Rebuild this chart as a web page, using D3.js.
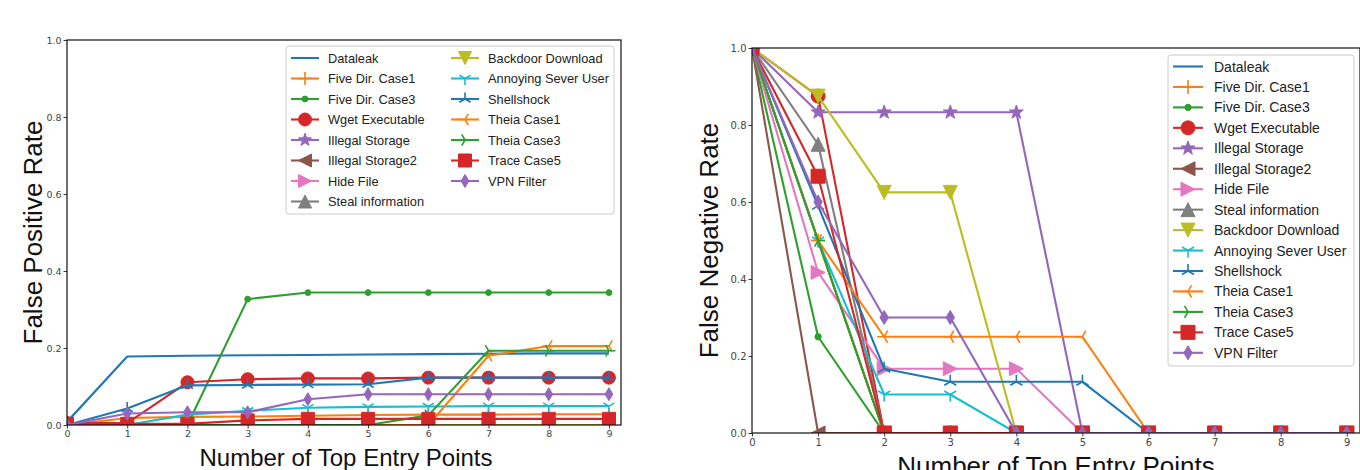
<!DOCTYPE html>
<html><head><meta charset="utf-8">
<script src="https://cdn.jsdelivr.net/npm/d3@7"></script>
<style>body{margin:0;background:#fff}svg{display:block}</style>
</head><body><svg id="c" width="1360" height="470"></svg>
<script>
// ---------------- data ----------------
const xValues = [0, 1, 2, 3, 4, 5, 6, 7, 8, 9];
const xTicks = [0, 1, 2, 3, 4, 5, 6, 7, 8, 9];
const yTicks = [0.0, 0.2, 0.4, 0.6, 0.8, 1.0];
const seriesNames = ["Dataleak", "Five Dir. Case1", "Five Dir. Case3", "Wget Executable", "Illegal Storage",
  "Illegal Storage2", "Hide File", "Steal information", "Backdoor Download", "Annoying Sever User",
  "Shellshock", "Theia Case1", "Theia Case3", "Trace Case5", "VPN Filter"];
const seriesMarkers = ["none", "+", ".", "o", "*", "<", ">", "^", "v", "1", "2", "3", "4", "s", "d"];
const seriesColors = ["#1f77b4", "#ff7f0e", "#2ca02c", "#d62728", "#9467bd", "#8c564b", "#e377c2", "#7f7f7f",
  "#bcbd22", "#17becf", "#1f77b4", "#ff7f0e", "#2ca02c", "#d62728", "#9467bd"];

// False positive rate (left chart)
const fprDataleak   = [0.008, 0.178, 0.180, 0.181, 0.182, 0.183, 0.184, 0.185, 0.186, 0.186];
const fprFiveDir1   = [0, 0.018, 0.021, 0.022, 0.024, 0.026, 0.027, 0.027, 0.028, 0.028];
const fprFiveDir3   = [0, 0, 0, 0.327, 0.344, 0.344, 0.344, 0.344, 0.344, 0.344];
const fprWget       = [0.005, 0.005, 0.111, 0.119, 0.121, 0.121, 0.123, 0.123, 0.123, 0.123];
const fprIllegal    = [0, 0, 0, 0, 0, 0, 0, 0, 0, 0];
const fprIllegal2   = [0, 0, 0, 0, 0, 0, 0, 0, 0, 0];
const fprHideFile   = [0, 0, 0, 0, 0, 0, 0, 0, 0, 0];
const fprSteal      = [0, 0, 0, 0, 0, 0, 0, 0, 0, 0];
const fprBackdoor   = [0, 0, 0, 0, 0, 0, 0, 0, 0, 0];
const fprAnnoying   = [0, 0, 0.027, 0.037, 0.045, 0.047, 0.048, 0.049, 0.049, 0.049];
const fprShellshock = [0, 0.043, 0.103, 0.104, 0.105, 0.106, 0.123, 0.123, 0.123, 0.123];
const fprTheia1     = [0, 0, 0, 0, 0, 0, 0, 0.180, 0.205, 0.205];
const fprTheia3     = [0, 0, 0, 0, 0, 0, 0.025, 0.193, 0.193, 0.193];
const fprTrace      = [0.003, 0.003, 0.003, 0.012, 0.016, 0.016, 0.016, 0.016, 0.016, 0.016];
const fprVPN        = [0, 0.030, 0.033, 0.033, 0.067, 0.080, 0.080, 0.080, 0.080, 0.080];

// False negative rate (right chart)
const fnrDataleak   = [1, 0.5, 0, 0, 0, 0, 0, 0, 0, 0];
const fnrFiveDir1   = [1, 0.5, 0, 0, 0, 0, 0, 0, 0, 0];
const fnrFiveDir3   = [1, 0.25, 0, 0, 0, 0, 0, 0, 0, 0];
const fnrWget       = [1, 0.875, 0, 0, 0, 0, 0, 0, 0, 0];
const fnrIllegal    = [1, 0.833, 0.833, 0.833, 0.833, 0, 0, 0, 0, 0];
const fnrIllegal2   = [1, 0, 0, 0, 0, 0, 0, 0, 0, 0];
const fnrHideFile   = [1, 0.417, 0.167, 0.167, 0.167, 0, 0, 0, 0, 0];
const fnrSteal      = [1, 0.75, 0, 0, 0, 0, 0, 0, 0, 0];
const fnrBackdoor   = [1, 0.875, 0.625, 0.625, 0, 0, 0, 0, 0, 0];
const fnrAnnoying   = [1, 0.5, 0.1, 0.1, 0, 0, 0, 0, 0, 0];
const fnrShellshock = [1, 0.59, 0.167, 0.133, 0.133, 0.133, 0, 0, 0, 0];
const fnrTheia1     = [1, 0.5, 0.25, 0.25, 0.25, 0.25, 0, 0, 0, 0];
const fnrTheia3     = [1, 0.5, 0, 0, 0, 0, 0, 0, 0, 0];
const fnrTrace      = [1, 0.667, 0, 0, 0, 0, 0, 0, 0, 0];
const fnrVPN        = [1, 0.6, 0.3, 0.3, 0, 0, 0, 0, 0, 0];

const fprSeries = [fprDataleak, fprFiveDir1, fprFiveDir3, fprWget, fprIllegal, fprIllegal2, fprHideFile,
  fprSteal, fprBackdoor, fprAnnoying, fprShellshock, fprTheia1, fprTheia3, fprTrace, fprVPN];
const fnrSeries = [fnrDataleak, fnrFiveDir1, fnrFiveDir3, fnrWget, fnrIllegal, fnrIllegal2, fnrHideFile,
  fnrSteal, fnrBackdoor, fnrAnnoying, fnrShellshock, fnrTheia1, fnrTheia3, fnrTrace, fnrVPN];

// ---------------- drawing ----------------
const svg = d3.select("#c");
const LABEL_FONT = "'Liberation Sans', Arial, sans-serif";
const TICK_FONT = "'DejaVu Sans', sans-serif";

function markerPath(m, s) {
  const r = s / 2;
  const pts = a => "M" + a.map(p => p[0].toFixed(2) + "," + p[1].toFixed(2)).join("L") + "Z";
  const spokes = angles => angles.map(a => {
    const t = a * Math.PI / 180;
    return "M0,0L" + (r * Math.cos(t)).toFixed(2) + "," + (r * Math.sin(t)).toFixed(2);
  }).join("");
  switch (m) {
    case "+": return `M${-r},0H${r}M0,${-r}V${r}`;
    case "o": return d3.symbol(d3.symbolCircle, Math.PI * r * r)();
    case ".": { const q = r * 0.45; return d3.symbol(d3.symbolCircle, Math.PI * q * q)(); }
    case "s": return `M${-r},${-r}H${r}V${r}H${-r}Z`;
    case "d": return pts([[0, -r], [0.6 * r, 0], [0, r], [-0.6 * r, 0]]);
    case "^": return pts([[0, -r], [r, r], [-r, r]]);
    case "v": return pts([[0, r], [r, -r], [-r, -r]]);
    case "<": return pts([[-r, 0], [r, -r], [r, r]]);
    case ">": return pts([[r, 0], [-r, -r], [-r, r]]);
    case "*": {
      const a = [];
      for (let i = 0; i < 10; i++) {
        const ang = (-90 + i * 36) * Math.PI / 180;
        const rr = i % 2 ? r * 0.42 : r * 1.05;
        a.push([rr * Math.cos(ang), rr * Math.sin(ang)]);
      }
      return pts(a);
    }
    case "1": return spokes([90, 210, 330]);   // tri_down
    case "2": return spokes([-90, 30, 150]);   // tri_up
    case "3": return spokes([180, -60, 60]);   // tri_left
    case "4": return spokes([0, 120, 240]);    // tri_right
  }
  return null;
}
const strokeOnly = m => ["+", "1", "2", "3", "4"].includes(m);

function drawMarker(g, m, color, s, x, y) {
  const p = markerPath(m, s);
  if (!p) return;
  g.append("path").attr("d", p).attr("transform", `translate(${x},${y})`)
    .attr("fill", strokeOnly(m) ? "none" : color)
    .attr("stroke", color)
    .attr("stroke-width", strokeOnly(m) ? 1.6 : 1);
}

function drawChart(cfg) {
  const x = d3.scaleLinear().domain([0, 9.2]).range([cfg.left, cfg.right]);
  const y = d3.scaleLinear().domain([0, 1]).range([cfg.bottom, cfg.top]);
  const g = svg.append("g");
  const clipId = "clip" + cfg.id;
  svg.append("clipPath").attr("id", clipId).append("rect")
    .attr("x", cfg.left).attr("y", cfg.top)
    .attr("width", cfg.right - cfg.left).attr("height", cfg.bottom - cfg.top);

  const plot = g.append("g").attr("clip-path", `url(#${clipId})`);
  const line = d3.line().x((d, i) => x(xValues[i])).y(d => y(d));
  cfg.series.forEach((vals, si) => {
    const color = seriesColors[si];
    const sg = plot.append("g");
    sg.append("path").attr("d", line(vals)).attr("fill", "none")
      .attr("stroke", color).attr("stroke-width", 2.1).attr("stroke-linejoin", "round");
    vals.forEach((v, i) => drawMarker(sg, seriesMarkers[si], color, cfg.msize, x(xValues[i]), y(v)));
  });

  // axes
  const xAxis = d3.axisBottom(x).tickValues(xTicks).tickSize(3.5).tickPadding(2).tickFormat(d3.format("d"));
  const yAxis = d3.axisLeft(y).tickValues(yTicks).tickSize(3.5).tickPadding(2).tickFormat(d3.format(".1f"));
  const gx = g.append("g").attr("transform", `translate(0,${cfg.bottom})`).call(xAxis);
  const gy = g.append("g").attr("transform", `translate(${cfg.left},0)`).call(yAxis);
  [gx, gy].forEach(a => {
    a.select(".domain").remove();
    a.selectAll("text").attr("font-family", TICK_FONT).attr("font-size", cfg.tickSize).attr("fill", "#444");
    a.selectAll("line").attr("stroke", "#222").attr("stroke-width", 0.9);
  });
  // frame
  g.append("rect").attr("x", cfg.left).attr("y", cfg.top)
    .attr("width", cfg.right - cfg.left).attr("height", cfg.bottom - cfg.top)
    .attr("fill", "none").attr("stroke", "#111").attr("stroke-width", 1.2);

  // labels
  g.append("text").attr("x", (cfg.left + cfg.right) / 2 + cfg.xlabelDx).attr("y", cfg.xlabelY)
    .attr("text-anchor", "middle").attr("font-family", LABEL_FONT).attr("font-size", cfg.xlabelSize)
    .attr("fill", "#111").text("Number of Top Entry Points");
  g.append("text").attr("transform", `translate(${cfg.ylabelX},${(cfg.top + cfg.bottom) / 2}) rotate(-90)`)
    .attr("text-anchor", "middle").attr("font-family", LABEL_FONT).attr("font-size", cfg.ylabelSize)
    .attr("fill", "#111").text(cfg.ylabel);

  // legend
  const L = cfg.legend;
  const lg = g.append("g");
  lg.append("rect").attr("x", L.x).attr("y", L.y).attr("width", L.w).attr("height", L.h)
    .attr("rx", 3).attr("fill", "#fff").attr("fill-opacity", 0.85).attr("stroke", "#cccccc").attr("stroke-width", 1);
  seriesNames.forEach((name, si) => {
    const col = Math.floor(si / L.perCol), row = si % L.perCol;
    const hx = L.x + 5 + col * L.colW;
    const hy = L.y + L.firstRow + row * L.rowH;
    const color = seriesColors[si];
    lg.append("line").attr("x1", hx).attr("x2", hx + L.handle).attr("y1", hy).attr("y2", hy)
      .attr("stroke", color).attr("stroke-width", 2.1);
    drawMarker(lg, seriesMarkers[si], color, cfg.msize, hx + L.handle / 2, hy);
    lg.append("text").attr("x", hx + L.handle + L.gap).attr("y", hy).attr("dy", "0.36em")
      .attr("font-family", LABEL_FONT).attr("font-size", L.font).attr("fill", "#222").text(name);
  });
}

drawChart({
  id: "L", left: 67, right: 621, top: 40, bottom: 425, series: fprSeries, msize: 13,
  tickSize: 9.5, xlabelSize: 24, ylabelSize: 26, xlabelY: 466, xlabelDx: 2, ylabelX: 42, ylabel: "False Positive Rate",
  legend: { x: 286, y: 46, w: 328, h: 168, perCol: 8, colW: 160, firstRow: 12, rowH: 20.5, handle: 28, gap: 9, font: 12.8 }
});
drawChart({
  id: "R", left: 752, right: 1360, top: 48, bottom: 433, series: fnrSeries, msize: 14,
  tickSize: 10, xlabelSize: 26, ylabelSize: 26, xlabelY: 475, xlabelDx: 0, ylabelX: 718, ylabel: "False Negative Rate",
  legend: { x: 1168, y: 55, w: 186, h: 311, perCol: 15, colW: 0, firstRow: 11.5, rowH: 20.45, handle: 30, gap: 11, font: 14 }
});
</script></body></html>
